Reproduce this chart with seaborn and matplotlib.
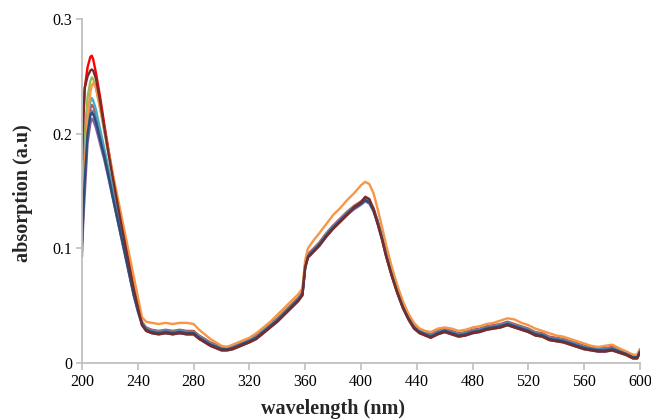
import matplotlib
matplotlib.use("Agg")
import matplotlib.pyplot as plt
import seaborn as sns
import pandas as pd

# Wavelength grid (nm) shared by all spectra
wavelength = [200, 201, 202, 204, 206, 207, 208, 210, 213, 216, 219, 222, 225, 228, 231, 234, 237, 240,
              243, 246, 250, 255, 260, 265, 270, 275, 280, 284, 288, 292, 296, 300, 304, 308, 312, 316,
              320, 325, 330, 335, 340, 345, 350, 355, 358, 360, 362, 366, 370, 375, 380, 385, 390, 395,
              400, 403, 406, 409, 412, 415, 418, 422, 426, 430, 434, 438, 442, 446, 450, 455, 460, 465,
              470, 475, 480, 485, 490, 495, 500, 505, 510, 515, 520, 525, 530, 535, 540, 545, 550, 555,
              560, 565, 570, 575, 580, 585, 590, 595, 598, 600]

s_blue = [0.110, 0.140, 0.165, 0.203, 0.218, 0.220, 0.219, 0.212, 0.197, 0.182, 0.165, 0.147, 0.130, 0.113, 0.096, 0.078, 0.061, 0.047,
          0.035, 0.030, 0.028, 0.027, 0.028, 0.027, 0.028, 0.027, 0.027, 0.023,
          0.020, 0.017, 0.015, 0.013, 0.013, 0.014, 0.016, 0.018, 0.020, 0.023,
          0.028, 0.033, 0.038, 0.044, 0.050, 0.056, 0.061, 0.085, 0.094, 0.099,
          0.104, 0.112, 0.119, 0.125, 0.131, 0.136, 0.140, 0.143, 0.141, 0.134,
          0.123, 0.110, 0.095, 0.078, 0.063, 0.050, 0.040, 0.032, 0.028, 0.026,
          0.024, 0.027, 0.029, 0.027, 0.025, 0.026, 0.028, 0.029, 0.031, 0.032,
          0.033, 0.035, 0.033, 0.031, 0.029, 0.026, 0.025, 0.022, 0.021, 0.020,
          0.018, 0.016, 0.014, 0.013, 0.012, 0.012, 0.013, 0.011, 0.009, 0.006,
          0.006, 0.011]

s_red2 = [0.105, 0.135, 0.165, 0.208, 0.222, 0.225, 0.224, 0.217, 0.201, 0.185, 0.168, 0.150, 0.132, 0.115, 0.097, 0.080, 0.062, 0.048,
          0.036, 0.031, 0.029, 0.028, 0.029, 0.028, 0.029, 0.028, 0.028, 0.024,
          0.021, 0.018, 0.016, 0.014, 0.014, 0.015, 0.017, 0.019, 0.021, 0.024,
          0.029, 0.034, 0.039, 0.045, 0.051, 0.057, 0.062, 0.086, 0.095, 0.100,
          0.105, 0.113, 0.120, 0.126, 0.132, 0.137, 0.141, 0.144, 0.142, 0.135,
          0.124, 0.111, 0.096, 0.079, 0.064, 0.051, 0.041, 0.033, 0.029, 0.027,
          0.025, 0.028, 0.030, 0.028, 0.026, 0.027, 0.029, 0.030, 0.032, 0.033,
          0.034, 0.036, 0.034, 0.032, 0.030, 0.027, 0.026, 0.023, 0.022, 0.021,
          0.019, 0.017, 0.015, 0.014, 0.013, 0.013, 0.014, 0.012, 0.010, 0.007,
          0.007, 0.012]

s_green = [0.150, 0.175, 0.200, 0.232, 0.246, 0.249, 0.248, 0.240, 0.222, 0.202, 0.182, 0.162, 0.142, 0.123, 0.103, 0.084, 0.066, 0.049,
           0.035, 0.030, 0.028, 0.027, 0.028, 0.027, 0.028, 0.027, 0.027, 0.023,
           0.020, 0.017, 0.015, 0.013, 0.013, 0.014, 0.016, 0.018, 0.020, 0.023,
           0.028, 0.033, 0.038, 0.044, 0.050, 0.056, 0.061, 0.085, 0.094, 0.099,
           0.104, 0.112, 0.119, 0.125, 0.131, 0.136, 0.140, 0.143, 0.141, 0.134,
           0.123, 0.110, 0.095, 0.078, 0.063, 0.050, 0.040, 0.032, 0.028, 0.026,
           0.024, 0.027, 0.029, 0.027, 0.025, 0.026, 0.028, 0.029, 0.031, 0.032,
           0.033, 0.035, 0.033, 0.031, 0.029, 0.026, 0.025, 0.022, 0.021, 0.020,
           0.018, 0.016, 0.014, 0.013, 0.012, 0.012, 0.013, 0.011, 0.009, 0.006,
           0.006, 0.011]

s_purple = [0.098, 0.125, 0.148, 0.192, 0.209, 0.213, 0.212, 0.205, 0.191, 0.177, 0.161, 0.144, 0.127, 0.110, 0.093, 0.076, 0.059, 0.045,
            0.033, 0.028, 0.026, 0.025, 0.026, 0.025, 0.026, 0.025, 0.025, 0.021,
            0.018, 0.015, 0.013, 0.011, 0.011, 0.012, 0.014, 0.016, 0.018, 0.021,
            0.026, 0.031, 0.036, 0.042, 0.048, 0.054, 0.059, 0.083, 0.092, 0.097,
            0.102, 0.110, 0.117, 0.123, 0.129, 0.134, 0.138, 0.141, 0.139, 0.132,
            0.121, 0.108, 0.093, 0.076, 0.061, 0.048, 0.038, 0.030, 0.026, 0.024,
            0.022, 0.025, 0.027, 0.025, 0.023, 0.024, 0.026, 0.027, 0.029, 0.030,
            0.031, 0.033, 0.031, 0.029, 0.027, 0.024, 0.023, 0.020, 0.019, 0.018,
            0.016, 0.014, 0.012, 0.011, 0.010, 0.010, 0.011, 0.009, 0.007, 0.004,
            0.004, 0.009]

s_aqua = [0.135, 0.160, 0.185, 0.215, 0.228, 0.231, 0.229, 0.221, 0.204, 0.187, 0.169, 0.151, 0.133, 0.115, 0.097, 0.079, 0.062, 0.047,
          0.034, 0.029, 0.027, 0.026, 0.027, 0.026, 0.027, 0.026, 0.026, 0.022,
          0.019, 0.016, 0.014, 0.012, 0.012, 0.013, 0.015, 0.017, 0.019, 0.022,
          0.027, 0.032, 0.037, 0.043, 0.049, 0.055, 0.060, 0.084, 0.093, 0.098,
          0.103, 0.111, 0.118, 0.124, 0.130, 0.135, 0.139, 0.142, 0.140, 0.133,
          0.122, 0.109, 0.094, 0.077, 0.062, 0.049, 0.039, 0.031, 0.027, 0.025,
          0.023, 0.026, 0.028, 0.026, 0.024, 0.025, 0.027, 0.028, 0.030, 0.031,
          0.032, 0.034, 0.032, 0.030, 0.028, 0.025, 0.024, 0.021, 0.020, 0.019,
          0.017, 0.015, 0.013, 0.012, 0.011, 0.011, 0.012, 0.010, 0.008, 0.005,
          0.005, 0.010]

s_orange = [0.120, 0.150, 0.175, 0.215, 0.236, 0.242, 0.244, 0.240, 0.222, 0.204, 0.185, 0.166, 0.148, 0.130, 0.112, 0.094, 0.076, 0.058,
            0.040, 0.036, 0.035, 0.034, 0.035, 0.034, 0.035, 0.035, 0.034, 0.029,
            0.025, 0.021, 0.018, 0.015, 0.014, 0.016, 0.018, 0.020, 0.022, 0.026,
            0.031, 0.036, 0.042, 0.048, 0.054, 0.060, 0.065, 0.090, 0.100, 0.107,
            0.113, 0.121, 0.129, 0.135, 0.142, 0.148, 0.155, 0.158, 0.156, 0.148,
            0.134, 0.119, 0.103, 0.084, 0.068, 0.054, 0.043, 0.035, 0.030, 0.028,
            0.027, 0.030, 0.031, 0.030, 0.028, 0.029, 0.031, 0.032, 0.034, 0.035,
            0.037, 0.039, 0.038, 0.035, 0.033, 0.030, 0.028, 0.026, 0.024, 0.023,
            0.021, 0.019, 0.017, 0.015, 0.014, 0.015, 0.016, 0.013, 0.010, 0.007,
            0.007, 0.011]

s_navy = [0.105, 0.135, 0.160, 0.200, 0.216, 0.218, 0.217, 0.210, 0.195, 0.180, 0.163, 0.145, 0.128, 0.111, 0.094, 0.077, 0.060, 0.046,
          0.034, 0.029, 0.027, 0.026, 0.027, 0.026, 0.027, 0.026, 0.026, 0.022,
          0.019, 0.016, 0.014, 0.012, 0.012, 0.013, 0.015, 0.017, 0.019, 0.022,
          0.027, 0.032, 0.037, 0.043, 0.049, 0.055, 0.060, 0.084, 0.093, 0.098,
          0.103, 0.111, 0.118, 0.124, 0.130, 0.135, 0.139, 0.142, 0.140, 0.133,
          0.122, 0.109, 0.094, 0.077, 0.062, 0.049, 0.039, 0.031, 0.027, 0.025,
          0.023, 0.026, 0.028, 0.026, 0.024, 0.025, 0.027, 0.028, 0.030, 0.031,
          0.032, 0.034, 0.032, 0.030, 0.028, 0.025, 0.024, 0.021, 0.020, 0.019,
          0.017, 0.015, 0.013, 0.012, 0.011, 0.011, 0.012, 0.010, 0.008, 0.005,
          0.005, 0.010]

s_red = [0.093, 0.215, 0.240, 0.258, 0.267, 0.268, 0.265, 0.253, 0.232, 0.208, 0.186, 0.164, 0.144, 0.124, 0.104, 0.085, 0.066, 0.050,
         0.035, 0.030, 0.028, 0.027, 0.028, 0.027, 0.028, 0.027, 0.027, 0.023,
         0.020, 0.017, 0.015, 0.013, 0.013, 0.014, 0.016, 0.018, 0.020, 0.023,
         0.028, 0.033, 0.038, 0.044, 0.050, 0.056, 0.061, 0.085, 0.094, 0.099,
         0.104, 0.112, 0.119, 0.125, 0.131, 0.136, 0.140, 0.143, 0.141, 0.134,
         0.123, 0.110, 0.095, 0.078, 0.063, 0.050, 0.040, 0.032, 0.028, 0.026,
         0.024, 0.027, 0.029, 0.027, 0.025, 0.026, 0.028, 0.029, 0.031, 0.032,
         0.033, 0.035, 0.033, 0.031, 0.029, 0.026, 0.025, 0.022, 0.021, 0.020,
         0.018, 0.016, 0.014, 0.013, 0.012, 0.012, 0.013, 0.011, 0.009, 0.006,
         0.006, 0.011]

s_maroon = [0.177, 0.215, 0.240, 0.250, 0.255, 0.256, 0.255, 0.248, 0.228, 0.205, 0.183, 0.162, 0.142, 0.122, 0.103, 0.084, 0.065, 0.049,
            0.033, 0.028, 0.026, 0.025, 0.026, 0.025, 0.026, 0.025, 0.025, 0.021,
            0.018, 0.015, 0.013, 0.011, 0.011, 0.012, 0.014, 0.016, 0.018, 0.021,
            0.026, 0.031, 0.036, 0.042, 0.048, 0.054, 0.059, 0.083, 0.092, 0.097,
            0.102, 0.110, 0.117, 0.123, 0.129, 0.136, 0.140, 0.145, 0.143, 0.134,
            0.121, 0.108, 0.093, 0.076, 0.061, 0.048, 0.038, 0.030, 0.026, 0.024,
            0.022, 0.025, 0.027, 0.025, 0.023, 0.024, 0.026, 0.027, 0.029, 0.030,
            0.031, 0.033, 0.031, 0.029, 0.027, 0.024, 0.023, 0.020, 0.019, 0.018,
            0.016, 0.014, 0.012, 0.011, 0.010, 0.010, 0.011, 0.009, 0.007, 0.004,
            0.004, 0.009]

# Drawing order: first entry lies at the bottom of the bundle
series = {
    "S8": s_red, "S2": s_red2, "S3": s_green, "S4": s_purple, "S5": s_aqua,
    "S1": s_blue, "S6": s_orange, "S7": s_navy, "S9": s_maroon,
}
palette = {
    "S1": "#4F81BD", "S2": "#C0504D", "S3": "#9BBB59", "S4": "#8064A2", "S5": "#4BACC6",
    "S6": "#F79646", "S7": "#2C4D75", "S8": "#FF0000", "S9": "#772C2A",
}

x_ticks = [200, 240, 280, 320, 360, 400, 440, 480, 520, 560, 600]
y_ticks = [0, 0.1, 0.2, 0.3]
y_tick_labels = ["0", "0.1", "0.2", "0.3"]

rows = []
for name, vals in series.items():
    for w, v in zip(wavelength, vals):
        rows.append({"wavelength": w, "absorption": v, "sample": name})
df = pd.DataFrame(rows)

sns.set_theme(style="white")
plt.rcParams["font.family"] = ["Liberation Serif", "DejaVu Serif"]

fig = plt.figure(figsize=(6.51, 4.20), dpi=100)
ax = fig.add_axes([82 / 651, 1 - 363 / 420, (640 - 82) / 651, (363 - 19) / 420])

sns.lineplot(data=df, x="wavelength", y="absorption", hue="sample",
             hue_order=list(series.keys()), palette=palette,
             estimator=None, sort=False, linewidth=1.7, legend=False, ax=ax)

ax.set_xlim(200, 600)
ax.set_ylim(0, 0.3)
ax.set_xticks(x_ticks)
ax.set_xticklabels([str(t) for t in x_ticks])
ax.set_yticks(y_ticks)
ax.set_yticklabels(y_tick_labels)
ax.set_xlabel("")
ax.set_ylabel("")

for side in ("top", "right"):
    ax.spines[side].set_visible(False)
for side in ("left", "bottom"):
    ax.spines[side].set_color("#BFBFBF")
    ax.spines[side].set_linewidth(1.3)

ax.tick_params(axis="both", which="major", direction="out", length=4, width=1.2,
               color="#BFBFBF", labelsize=11.5, labelcolor="black", pad=3)
ax.tick_params(axis="x", bottom=True, length=5)
ax.tick_params(axis="y", left=True)

fig.text(333 / 651, 1 - 409 / 420, "wavelength (nm)", ha="center", va="center",
         fontsize=14.5, fontweight="bold")
fig.text(23 / 651, 1 - 193 / 420, "absorption (a.u)", ha="center", va="center",
         rotation=90, fontsize=14.5, fontweight="bold")

fig.savefig("out.png", dpi=100, facecolor="white")
